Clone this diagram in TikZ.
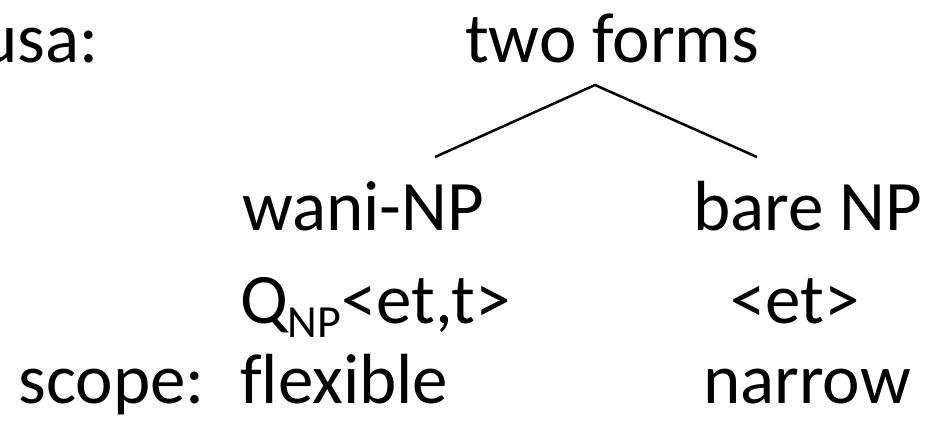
\documentclass[tikz,border=0pt]{standalone}
\usepackage{fontspec}
\setmainfont{Carlito}[Ligatures=CommonOff]
\begin{document}
\begin{tikzpicture}[x=1pt,y=-1pt,
  lbl/.style={inner sep=0pt,font=\fontsize{71}{80}\selectfont},
  branch/.style={line width=2.5pt}]
\useasboundingbox (0,0) rectangle (930,429);
\node[lbl,anchor=base east] (usa) at (99,62) {usa:};
\node[lbl,anchor=base west] (two) at (465,62) {two forms};
\coordinate (apex) at (595,85);
\coordinate (lend) at (435,157);
\coordinate (rend) at (757,157);
\draw[branch] (lend) -- (apex) -- (rend);
\node[lbl,anchor=base west] (wani) at (242,230) {wani-NP};
\node[lbl,anchor=base west] (bare) at (693,230) {bare NP};
\node[lbl,anchor=base west] (qnp) at (240,323) {Q\raisebox{-0.2em}{\fontsize{46}{46}\selectfont NP}<et,t>};
\node[lbl,anchor=base west] (et) at (730,323) {<et>};
\node[lbl,anchor=base east] (scope) at (205,403) {scope:};
\node[lbl,anchor=base west] (flex) at (240,403) {flexible};
\node[lbl,anchor=base west] (narrow) at (703,403) {narrow};
\end{tikzpicture}
\end{document}
